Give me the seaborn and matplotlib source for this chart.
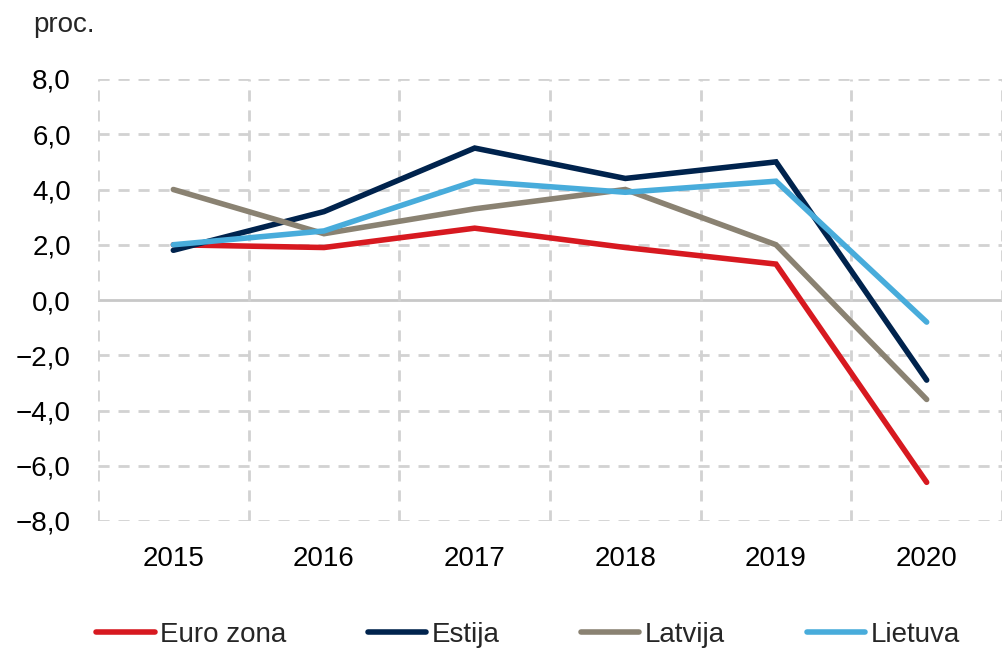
import matplotlib
matplotlib.use("Agg")
import matplotlib.pyplot as plt
import seaborn as sns
import pandas as pd
import numpy as np

years = ["2015", "2016", "2017", "2018", "2019", "2020"]
euro_zona = [2.0, 1.9, 2.6, 1.9, 1.3, -6.6]
estija = [1.8, 3.2, 5.5, 4.4, 5.0, -2.9]
latvija = [4.0, 2.4, 3.3, 4.0, 2.0, -3.6]
lietuva = [2.0, 2.5, 4.3, 3.9, 4.3, -0.8]
series_names = ["Euro zona", "Estija", "Latvija", "Lietuva"]
colors = ["#D71920", "#00234D", "#8A8272", "#48ACDB"]
y_ticks = [-8, -6, -4, -2, 0, 2, 4, 6, 8]

df = pd.concat([
    pd.DataFrame({"year": years, "value": vals, "series": name})
    for name, vals in zip(series_names, [euro_zona, estija, latvija, lietuva])
])

sns.set_theme(style="white")
plt.rcParams["font.family"] = ["Liberation Sans", "DejaVu Sans"]
plt.rcParams["font.size"] = 20

fig = plt.figure(figsize=(10.02, 6.52), dpi=100)
ax = fig.add_axes([98 / 1002, 1 - 521 / 652, 1 - 98 / 1002, (521 - 79) / 652])

grid_color = "#D2D2D2"
dash = (0, (4.0, 3.2))
ax.set_xlim(-0.5, len(years) - 0.5)
ax.set_ylim(-8, 8)
ax.set_yticks(y_ticks)
ax.set_yticklabels([f"{t:.1f}".replace(".", ",").replace("-", "\u2212") for t in y_ticks])
ax.set_xticks(np.arange(-0.5, len(years), 1), minor=True)
ax.grid(False)
ax.grid(which="minor", axis="x", color=grid_color, linewidth=2.0, linestyle=dash)
for t in y_ticks:
    if t != 0:
        ax.axhline(t, color=grid_color, linewidth=2.0, linestyle=dash, zorder=0)
ax.axhline(0, color="#C8C8C8", linewidth=2.0, zorder=0.5)

sns.lineplot(data=df, x="year", y="value", hue="series", palette=colors,
             hue_order=series_names, linewidth=4.0, ax=ax, sort=False,
             legend=False, zorder=3)
for ln in ax.get_lines():
    ln.set_solid_capstyle("round")
    ln.set_solid_joinstyle("miter")

ax.set_xticks(range(len(years)))
ax.set_xticklabels(years)
ax.set_xlabel("")
ax.set_ylabel("")
for s in ax.spines.values():
    s.set_visible(False)
ax.tick_params(axis="x", which="both", length=0, pad=18, labelsize=20, colors="black")
ax.tick_params(axis="y", which="both", length=0, pad=19.5, labelsize=20, colors="black")

handles = [plt.Line2D([], [], color=c, linewidth=4.0, solid_capstyle="round") for c in colors]
fig.legend(handles, series_names, loc="center", bbox_to_anchor=(0.527, 1 - 635 / 652),
           ncol=4, frameon=False, fontsize=20, handlelength=2.1, handletextpad=0.2,
           columnspacing=2.93, borderaxespad=0)

fig.text(33 / 1002, 1 - 25 / 652, "proc.", fontsize=20, va="center", ha="left")

fig.savefig("out.png", dpi=100)
